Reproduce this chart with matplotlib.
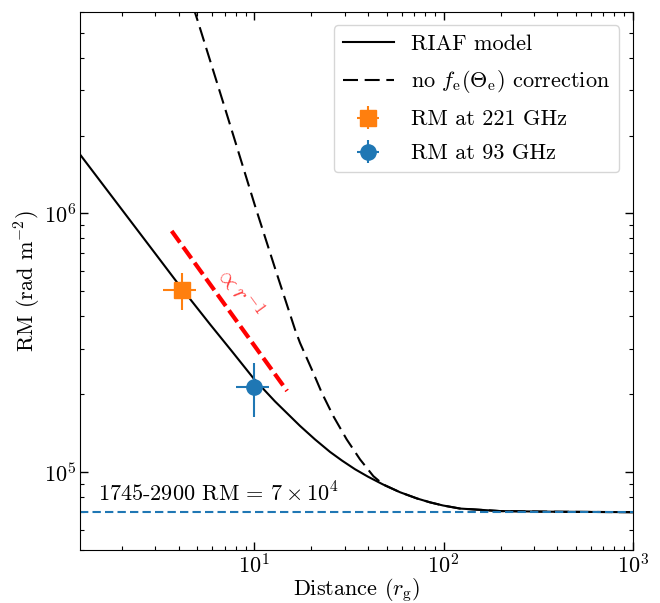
import numpy as np
import matplotlib
matplotlib.use("Agg")
import matplotlib.pyplot as plt
from matplotlib.ticker import NullFormatter

plt.rcParams['font.family'] = ['cmr10', 'DejaVu Serif']
plt.rcParams['mathtext.fontset'] = 'cm'
plt.rcParams['axes.formatter.use_mathtext'] = True
plt.rcParams['axes.unicode_minus'] = False

# RIAF model curve
riaf_r = [1.20, 2.0, 3.0, 4.10, 5.85, 7.62, 9.96, 12.87, 17.44, 20.93, 25.13, 29.08, 34.06, 39.9,
          47.88, 58.9, 72.4, 84.9, 99.4, 122.2, 198.9, 365.6, 1000.0]
riaf_rm = [1.69e6, 1.033e6, 6.99e5, 5.17e5, 3.72e5, 2.93e5, 2.293e5, 1.876e5, 1.509e5, 1.338e5, 1.197e5, 1.108e5,
           1.026e5, 9.60e4, 8.96e4, 8.36e4, 7.91e4, 7.64e4, 7.43e4, 7.23e4, 7.07e4, 7.03e4, 7.0e4]

# no f_e(Theta_e) correction curve
nofe_r = [4.75, 5.06, 7.0, 10.09, 13.0, 16.41, 17.44, 20.5, 22.71, 26.16, 30.78, 36.2, 42.56, 48.07,
          58.9, 72.4, 84.9, 99.4, 122.2, 198.9, 365.6, 1000.0]
nofe_rm = [6.3e6, 5.46e6, 2.55e6, 1.07e6, 6.0e5, 3.56e5, 3.16e5, 2.42e5, 2.03e5, 1.646e5, 1.338e5, 1.12e5, 9.65e4, 8.95e4,
           8.36e4, 7.91e4, 7.64e4, 7.43e4, 7.23e4, 7.07e4, 7.03e4, 7.0e4]

# r^-1 guide line
guide_r = [3.66, 14.9]
guide_rm = [8.55e5, 2.06e5]

# measurements
rm221_r, rm221_rm = [4.13], [5.06e5]
rm221_xerr = [[0.83], [0.80]]
rm221_yerr = [[0.83e5], [0.80e5]]
rm93_r, rm93_rm = [10.0], [2.13e5]
rm93_xerr = [[2.0], [2.0]]
rm93_yerr = [[0.49e5], [0.50e5]]

rm_ref = 7e4

fig = plt.figure(figsize=(6.6, 6.03), dpi=100)
ax = fig.add_axes([0.1212, 0.0879, 0.8376, 0.8921])

ax.plot(riaf_r, riaf_rm, color='black', lw=1.5, label='RIAF model')
ax.plot(nofe_r, nofe_rm, color='black', lw=1.5, dashes=(7.2, 3.2),
        label=r'no $f_{\rm e}(\Theta_{\rm e})$ correction')
ax.plot(guide_r, guide_rm, color='red', lw=3.0, dashes=(3.4, 1.3))
ax.axhline(rm_ref, color='#1f77b4', lw=1.5, dashes=(4, 2))

ax.errorbar(rm221_r, rm221_rm, xerr=rm221_xerr, yerr=rm221_yerr, fmt='s',
            color='#ff7f0e', ms=11, elinewidth=1.5, capsize=0, label='RM at 221 GHz')
ax.errorbar(rm93_r, rm93_rm, xerr=rm93_xerr, yerr=rm93_yerr, fmt='o',
            color='#1f77b4', ms=11, elinewidth=1.5, capsize=0, label='RM at 93 GHz')

ax.text(8.3, 4.98e5, r'$\propto r^{-1}$', color='red', alpha=0.75, fontsize=17,
        rotation=-54, ha='center', va='center', rotation_mode='anchor')
ax.text(1.49, 7.7e4, r'1745-2900 RM = $7\times10^4$', fontsize=16, ha='left', va='baseline')

ax.set_xscale('log')
ax.set_yscale('log')
ax.set_xlim(1.20, 1000)
ax.set_ylim(5.0e4, 6.0e6)

ax.tick_params(which='both', direction='in', top=True, right=True, labelsize=16, pad=2.5)
ax.tick_params(which='major', length=5.5, width=1.0)
ax.tick_params(which='minor', length=3, width=0.8)
ax.yaxis.set_minor_formatter(NullFormatter())
ax.xaxis.set_minor_formatter(NullFormatter())

ax.set_xlabel(r'Distance ($r_{\rm g}$)', fontsize=16, labelpad=-1.5)
ax.set_ylabel(r'RM (rad m$^{-2}$)', fontsize=16, labelpad=1)

ax.legend(loc='upper right', fontsize=16, handlelength=2.3, labelspacing=0.65,
          borderaxespad=0.6)

fig.savefig('out.png', dpi=100)
